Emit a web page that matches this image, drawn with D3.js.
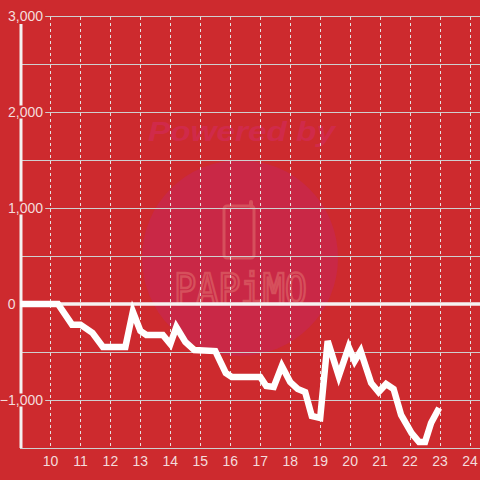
<!DOCTYPE html>
<html><head><meta charset="utf-8">
<script src="https://cdn.jsdelivr.net/npm/d3@7"></script>
<style>html,body{margin:0;padding:0;background:#cd2a2e;}svg{display:block;}</style>
</head><body>
<svg id="c" width="480" height="480"></svg>
<script>
const xValues = [9, 10.25, 10.72, 11.0, 11.4, 11.75, 12.5, 12.75, 13.0, 13.2, 13.75, 14.0, 14.2, 14.5, 14.8, 15.5, 15.85, 16.05, 17.0, 17.2, 17.45, 17.72, 18.0, 18.25, 18.5, 18.72, 19.0, 19.25, 19.62, 19.95, 20.15, 20.35, 20.7, 20.95, 21.2, 21.45, 21.7, 22.05, 22.3, 22.5, 22.7, 22.97];
const yValues = [0, 0, -215, -215, -300, -448, -448, -80, -280, -323, -323, -417, -240, -396, -479, -490, -719, -760, -760, -854, -865, -646, -813, -885, -917, -1167, -1188, -385, -750, -448, -594, -490, -823, -917, -833, -885, -1156, -1344, -1438, -1438, -1240, -1083];
const xTicks = [10, 11, 12, 13, 14, 15, 16, 17, 18, 19, 20, 21, 22, 23, 24];
const yGrid = [-1500, -1000, -500, 0, 500, 1000, 1500, 2000, 2500, 3000];
const yLabels = [-1000, 0, 1000, 2000, 3000];

const svg = d3.select("#c");
const W = 480, H = 480;
const x = d3.scaleLinear().domain([9, 24.333]).range([20.5, 480]);
const y = d3.scaleLinear().domain([-1500, 3000]).range([448, 16]);

svg.append("rect").attr("width", W).attr("height", H).attr("fill", "#cd2a2e");

// watermark
const wm = svg.append("g");
wm.append("circle").attr("cx", 240).attr("cy", 258).attr("r", 98).attr("fill", "#c92846");
wm.append("text").attr("x", 148).attr("y", 141).attr("textLength", 187).attr("lengthAdjust", "spacingAndGlyphs")
  .attr("font-family", "Liberation Sans, Arial, sans-serif").attr("font-weight", "bold").attr("font-style", "italic")
  .attr("font-size", 27).attr("fill", "#d02a4a").text("Powered by");
wm.append("rect").attr("x", 224).attr("y", 206).attr("width", 30).attr("height", 52).attr("rx", 3)
  .attr("fill", "none").attr("stroke", "#d6505c").attr("stroke-width", 3);
wm.append("rect").attr("x", 249).attr("y", 200).attr("width", 4).attr("height", 8).attr("rx", 2).attr("fill", "#d6505c");
wm.append("text").attr("x", 174).attr("y", 304).attr("textLength", 133).attr("lengthAdjust", "spacingAndGlyphs")
  .attr("font-family", "DejaVu Sans Mono, monospace").attr("font-size", 42)
  .attr("fill", "none").attr("stroke", "#d6505c").attr("stroke-width", 2.5).text("PAPiMO");

// horizontal grid
svg.append("g").selectAll("line").data(yGrid).join("line")
  .attr("x1", 20).attr("x2", W).attr("y1", d => Math.round(y(d)) + 0.5).attr("y2", d => Math.round(y(d)) + 0.5)
  .attr("stroke", "#cfcfcf").attr("stroke-width", 1);

// vertical dashed grid
svg.append("g").selectAll("line").data(xTicks).join("line")
  .attr("x1", d => Math.floor(x(d)) + 0.5).attr("x2", d => Math.floor(x(d)) + 0.5)
  .attr("y1", 17).attr("y2", 446)
  .attr("stroke", "#e6e0e0").attr("stroke-width", 1).attr("stroke-dasharray", "3,3");

// zero line
svg.append("line").attr("x1", 20).attr("x2", W).attr("y1", y(0)).attr("y2", y(0))
  .attr("stroke", "#f6f2f2").attr("stroke-width", 3.5);

// y axis line
svg.append("line").attr("x1", 21).attr("x2", 21).attr("y1", 24).attr("y2", 448)
  .attr("stroke", "#f4f0f0").attr("stroke-width", 3);

// y labels with bg
const yl = svg.append("g").selectAll("g").data(yLabels).join("g");
yl.each(function(d) {
  const g = d3.select(this);
  const t = g.append("text")
    .attr("x", d === 0 ? 15.5 : 43).attr("y", y(d) + 5)
    .attr("text-anchor", "end")
    .attr("font-family", "Liberation Sans, Arial, sans-serif").attr("font-size", 14)
    .attr("fill", "#f4dcdc").text(d3.format(",")(d));
  if (d !== 0) {
    const b = t.node().getBBox();
    g.insert("rect", "text").attr("x", b.x - 1).attr("y", y(d) - 6.5).attr("width", b.width + 3).attr("height", 13)
      .attr("fill", "#cd2a2e");
  }
});

// data line
const data = xValues.map((v, i) => [v, yValues[i]]);
svg.append("path").datum(data)
  .attr("d", d3.line().x(d => x(d[0])).y(d => y(d[1])))
  .attr("fill", "none").attr("stroke", "#ffffff").attr("stroke-width", 6.5).attr("stroke-linejoin", "miter");

// x labels
svg.append("g").selectAll("text").data(xTicks).join("text")
  .attr("x", d => x(d)).attr("y", 466).attr("text-anchor", "middle")
  .attr("font-family", "Liberation Sans, Arial, sans-serif").attr("font-size", 14)
  .attr("fill", "#f4dcdc").text(d => d);
</script>
</body></html>
